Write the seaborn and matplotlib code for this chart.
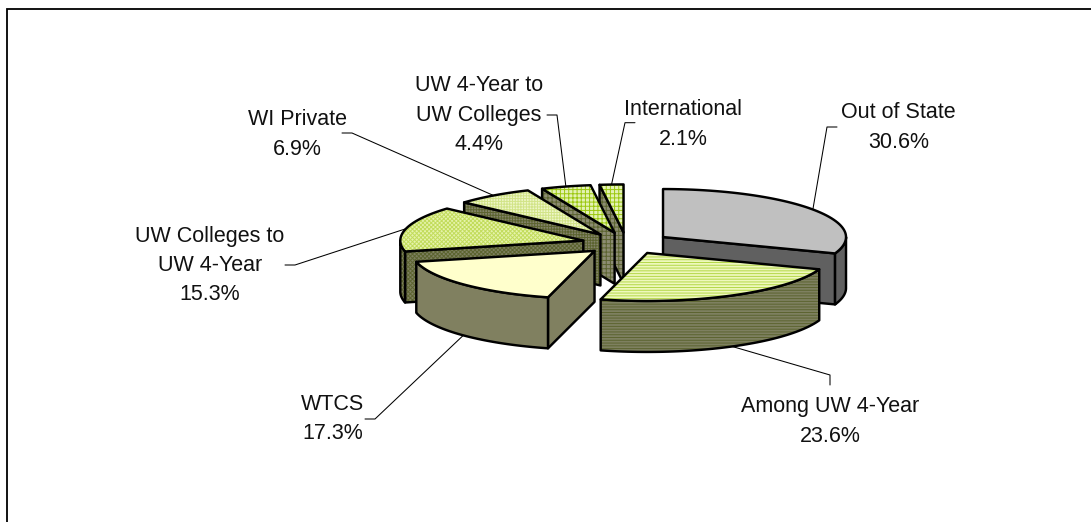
import numpy as np
import matplotlib
matplotlib.use("Agg")
import matplotlib.pyplot as plt
from matplotlib.patches import Polygon
import seaborn as sns

# --- data -------------------------------------------------------------
categories = ["Out of State", "Among UW 4-Year", "WTCS", "UW Colleges to\nUW 4-Year",
              "WI Private", "UW 4-Year to\nUW Colleges", "International"]
shares = [30.6, 23.6, 17.3, 15.3, 6.9, 4.4, 2.1]

# --- styles -----------------------------------------------------------
top_face = ["#C0C0C0", "#EEF8BC", "#FFFFCC", "#E6F3AC", "#EEF6C8", "#E4F2B4", "#E4F2B4"]
top_hatch = [None, "#B4D848", None, "#C2DC5C", "#D2E488", "#9CC810", "#9CC810"]
top_pattern = [None, "------", None, "xxxxxxxx", "++++++", "++++", "++++"]
side_face = ["#606060", "#7E8060", "#808060", "#7E8060", "#84846A", "#8C8C72", "#8C8C72"]
side_hatch = [None, "#5C6430", None, "#5C6430", "#5C6430", "#5C6430", "#5C6430"]
side_pattern = [None, "------", None, "xxxxxxxx", "++++++", "++++", "++++"]
draw_order = [0, 6, 5, 4, 3, 2, 1]

# layout of the projected pie, in figure pixels
CX, CY = 626.5, 243.3
RX, RY = 183.0, 48.0
EX, EY = 44.6, 10.9
DEPTH = 51.0

label_xy = [(898.5, 127.5), (830.5, 421.5), (332.5, 419), (210, 265.5),
            (297, 134.5), (479, 115), (683, 124.5)]
leader_xy = [[(837, 127), (827, 127)], [(830, 385), (830, 375)],
             [(365, 419), (375, 419)], [(285, 265), (295, 265)],
             [(342, 133), (352, 133)], [(547, 115), (557, 115)],
             [(635, 122.7), (625, 122.7)]]

sns.set_theme(style="white", rc={"hatch.linewidth": 0.7})
plt.rcParams["font.family"] = ["Liberation Sans", "DejaVu Sans"]

fig, ax = plt.subplots(figsize=(10.91, 5.22), dpi=100)
fig.subplots_adjust(0, 0, 1, 1)
ax.set_xlim(0, 1091)
ax.set_ylim(522, 0)
ax.axis("off")

# chart frame (only the top and left edges fall inside the picture)
ax.plot([7, 7, 1091], [522, 9, 9], color="black", lw=1.3, solid_joinstyle="miter")

edges = np.cumsum([0] + shares) / sum(shares) * 2 * np.pi
LW = 1.75


def rim(apex, a, b, n=60):
    t = np.linspace(a, b, n)
    return np.column_stack([apex[0] + RX * np.sin(t), apex[1] - RY * np.cos(t)])


def face(pts, fc, hc, pat, z):
    if pat:
        ax.add_patch(Polygon(pts, closed=True, facecolor=fc, edgecolor=hc, hatch=pat, lw=0, zorder=z))
        ax.add_patch(Polygon(pts, closed=True, fill=False, edgecolor="black", lw=LW, joinstyle="round", zorder=z))
    else:
        ax.add_patch(Polygon(pts, closed=True, facecolor=fc, edgecolor="black", lw=LW, joinstyle="round", zorder=z))


for rank, i in enumerate(draw_order):
    a, b = edges[i], edges[i + 1]
    mid = (a + b) / 2
    apex = np.array([CX + EX * np.sin(mid), CY - EY * np.cos(mid)])
    down = np.array([0, DEPTH])
    z = 2 + rank
    s = (side_face[i], side_hatch[i], side_pattern[i], z)

    # radial walls that face the viewer
    if np.sin(a) < -1e-6:
        e = rim(apex, a, a, 1)[0]
        face(np.array([apex, e, e + down, apex + down]), *s)
    if np.sin(b) > 1e-6:
        e = rim(apex, b, b, 1)[0]
        face(np.array([apex, e, e + down, apex + down]), *s)
    # outer wall, front half only
    lo, hi = max(a, np.pi / 2), min(b, 3 * np.pi / 2)
    if hi > lo:
        r = rim(apex, lo, hi)
        face(np.vstack([r, (r + down)[::-1]]), *s)
    # top
    face(np.vstack([apex, rim(apex, a, b)]), top_face[i], top_hatch[i], top_pattern[i], z)

    # leader line, ending at the middle of the slice's rim
    tip = rim(apex, mid, mid, 1)[0]
    if np.cos(mid) < 0:
        tip = tip + down
    pts = np.array(leader_xy[i] + [tuple(tip)])
    ax.plot(pts[:, 0], pts[:, 1], color="black", lw=0.75, zorder=20)

    ax.text(label_xy[i][0], label_xy[i][1], f"{categories[i]}\n{shares[i]:.1f}%",
            ha="center", va="center", multialignment="center",
            fontsize=15.5, color="#111111", linespacing=1.52, zorder=21)

fig.savefig("out.png", dpi=100, facecolor="white")
